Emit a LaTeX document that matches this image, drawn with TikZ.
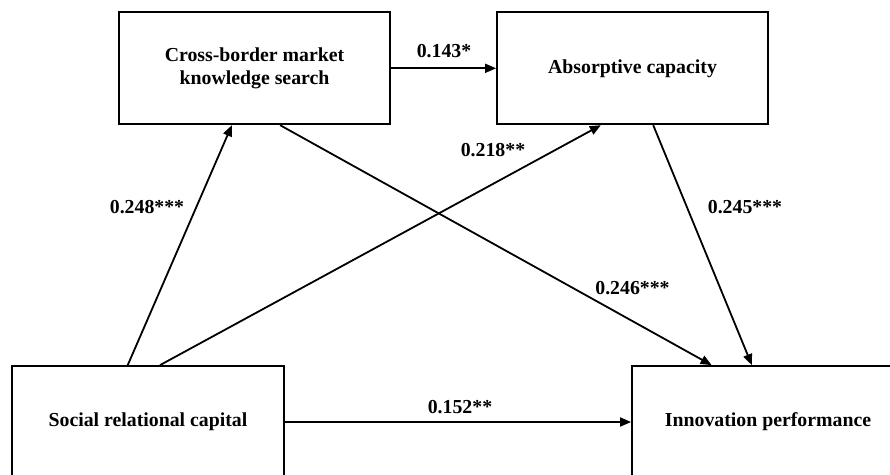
\documentclass[tikz,border=0pt]{standalone}
\usepackage{fontspec}
\setmainfont{Liberation Serif}
\usetikzlibrary{arrows.meta,calc}

\tikzset{
  varbox/.style={draw, line width=1.8pt, minimum width=271pt, minimum height=112pt,
    inner sep=0pt, align=center, font=\bfseries\fontsize{19.8}{22.5}\selectfont},
  path/.style={line width=1.8pt, -{Triangle[length=11pt,width=9pt]}},
  coef/.style={font=\bfseries\fontsize{19.8}{22.5}\selectfont, inner sep=0pt}
}

\begin{document}
\begin{tikzpicture}[x=1pt,y=-1pt]
  \useasboundingbox (0,0) rectangle (890,474);
  \clip (0,0) rectangle (890,474);

  % constructs
  \node[varbox] (kns) at (254.5,68.3) {Cross-border market\\knowledge search};
  \node[varbox] (abs) at (632.5,68.3) {Absorptive capacity};
  \node[varbox, minimum width=272pt] (src) at (148,422) {Social relational capital};
  \node[varbox, minimum width=272pt] (inp) at (768,422) {Innovation performance};

  % paths
  \draw[path] (kns.east) -- (abs.west);
  \draw[path] ($(src.north west)!0.426!(src.north east)$) -- ($(kns.south west)!0.417!(kns.south east)$);
  \draw[path] ($(src.north west)!0.544!(src.north east)$) -- ($(abs.south west)!0.384!(abs.south east)$);
  \draw[path] ($(kns.south west)!0.594!(kns.south east)$) -- ($(inp.north west)!0.294!(inp.north east)$);
  \draw[path] ($(abs.south west)!0.576!(abs.south east)$) -- ($(inp.north west)!0.441!(inp.north east)$);
  \draw[path] (src.east) -- (inp.west);

  % coefficients
  \node[coef] (c1) at (444,51) {0.143*};
  \node[coef] (c2) at (147,207) {0.248***};
  \node[coef] (c3) at (493,150) {0.218**};
  \node[coef] (c4) at (745,207) {0.245***};
  \node[coef] (c5) at (632.5,288) {0.246***};
  \node[coef] (c6) at (460,407) {0.152**};
\end{tikzpicture}
\end{document}
